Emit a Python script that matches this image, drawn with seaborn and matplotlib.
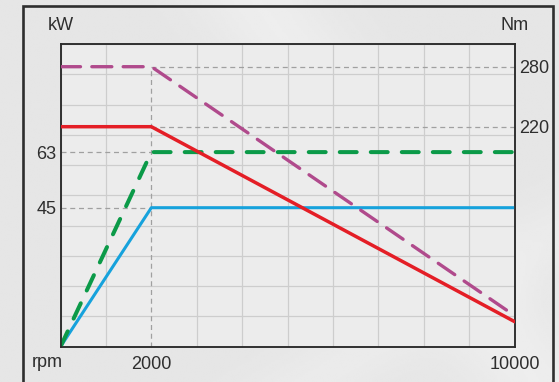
import numpy as np
import pandas as pd
import matplotlib
matplotlib.use("Agg")
import matplotlib.pyplot as plt
from matplotlib.patches import Rectangle
import seaborn as sns

# Motor characteristic: speed (rpm), power (kW) and torque (Nm)
rpm = [0, 2000, 10000]
power_peak_kw = [0, 63, 63]
power_cont_kw = [0, 45, 45]
torque_peak_nm = [280, 280, 31]
torque_cont_nm = [220, 220, 25]

kw_ticks = [45, 63]
nm_ticks = [220, 280]
rpm_ticks = [2000, 10000]
rpm_knee = 2000

sns.set_theme(style="white")
plt.rcParams["font.family"] = ["Liberation Sans", "DejaVu Sans"]

TXT = "#2e2e2e"
RED = "#e41e26"
MAGENTA = "#b04a8c"
GREEN = "#0b9a48"
BLUE = "#16a2dc"
REF = "#a0a0a0"

W, H = 559, 382
fig = plt.figure(figsize=(W / 100, H / 100), dpi=100, facecolor="#e5e5e5")

# soft background sheen
bg = fig.add_axes([0, 0, 1, 1], zorder=-10)
yy, xx = np.mgrid[0:1:200j, 0:1:300j]
sheen = 0.90 + 0.03 * np.exp(-((xx * 1.2 - yy * 0.6 - 0.55) ** 2) / 0.02) \
    + 0.02 * np.exp(-((xx * 0.8 + yy * 0.9 - 1.35) ** 2) / 0.01)
bg.imshow(sheen, cmap="gray", vmin=0, vmax=1, aspect="auto", extent=[0, 1, 0, 1])
bg.set_axis_off()

# outer frame
fig.patches.append(Rectangle((23 / W, -0.05), (553 - 23) / W, 1 - 6 / H + 0.05,
                             transform=fig.transFigure, fill=False,
                             edgecolor="#2e2e2e", linewidth=1.9, zorder=5))

left, right = 60.5 / W, 514.7 / W
bottom, top = (H - 346.7) / H, (H - 44) / H
ax = fig.add_axes([left, bottom, right - left, top - bottom])
ax.set_facecolor("#ececec")
ax2 = ax.twinx()
ax2.set_facecolor("none")

KW_MAX = 98.0
NM_MAX = 302.7
ax.set_xlim(0, 10000)
ax.set_ylim(0, KW_MAX)
ax2.set_ylim(0, NM_MAX)

# background grid: 10 x 10 cells
ax.set_xticks(np.arange(0, 10001, 1000), minor=True)
ax.set_yticks(np.linspace(0, KW_MAX, 11), minor=True)
ax.grid(True, which="minor", color="#cdcdcd", linewidth=0.9)
ax.set_axisbelow(True)

# dashed reference lines
ref = dict(color=REF, linewidth=0.9, linestyle=(0, (4, 3)), zorder=1.5)
ax.plot([rpm_knee, rpm_knee], [0, torque_peak_nm[0] / NM_MAX * KW_MAX], **ref)
for v in kw_ticks:
    ax.plot([0, rpm_knee], [v, v], **ref)
for v in nm_ticks:
    ax.plot([rpm_knee, 10000], [v / NM_MAX * KW_MAX] * 2, **ref)

df = pd.DataFrame({"rpm": rpm, "p_peak": power_peak_kw, "p_cont": power_cont_kw,
                   "t_peak": torque_peak_nm, "t_cont": torque_cont_nm})

sns.lineplot(data=df, x="rpm", y="p_cont", ax=ax, color=BLUE, linewidth=2.2,
             solid_capstyle="butt", zorder=3)
sns.lineplot(data=df, x="rpm", y="p_peak", ax=ax, color=GREEN, linewidth=2.9,
             dashes=False, zorder=3)
ax.lines[-1].set_linestyle((0, (4.2, 3.5)))
ax.lines[-1].set_dash_capstyle("round")

sns.lineplot(data=df, x="rpm", y="t_cont", ax=ax2, color=RED, linewidth=2.5,
             zorder=3)
sns.lineplot(data=df, x="rpm", y="t_peak", ax=ax2, color=MAGENTA, linewidth=2.4,
             zorder=3)
ax2.lines[-1].set_linestyle((0, (6, 3.4)))
ax2.lines[-1].set_dash_capstyle("round")

for a in (ax, ax2):
    a.set_xlabel("")
    a.set_ylabel("")
    for s in a.spines.values():
        s.set_color("#2b2b2b")
        s.set_linewidth(1.1)

ax.set_xticks(rpm_ticks)
ax.set_xticklabels([str(v) for v in rpm_ticks])
ax.set_yticks(kw_ticks)
ax.set_yticklabels([str(v) for v in kw_ticks])
ax2.set_yticks(nm_ticks)
ax2.set_yticklabels([str(v) for v in nm_ticks])
ax.tick_params(axis="both", which="both", length=0, labelsize=13, colors=TXT)
ax.tick_params(axis="x", pad=7)
ax.tick_params(axis="y", pad=3)
ax2.tick_params(axis="y", length=0, labelsize=13, colors=TXT, pad=3)

ax.text(-0.029, -0.0235, "rpm", transform=ax.transAxes, ha="center", va="top",
        fontsize=13, color=TXT)
ax.text(0.0, 1.034, "kW", transform=ax.transAxes, ha="center", va="bottom",
        fontsize=13, color=TXT)
ax.text(1.0, 1.034, "Nm", transform=ax.transAxes, ha="center", va="bottom",
        fontsize=13, color=TXT)

fig.savefig("out.png", dpi=100, facecolor=fig.get_facecolor())
